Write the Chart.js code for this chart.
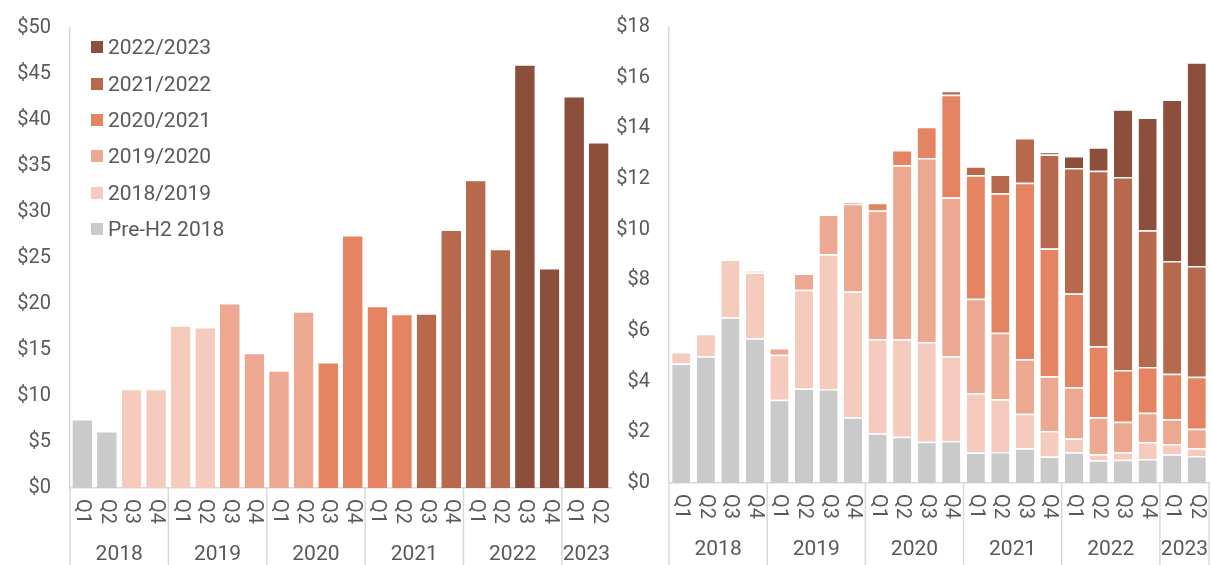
<!DOCTYPE html>
<html>
<head>
<meta charset="utf-8">
<script src="https://cdn.jsdelivr.net/npm/chart.js@4.4.1/dist/chart.umd.min.js"></script>
<style>
  html, body { margin: 0; padding: 0; background: #fff; }
  #wrap { position: relative; width: 1211px; height: 565px; overflow: hidden; }
  #c1 { position: absolute; left: 0; top: 0; }
  #c2 { position: absolute; left: 612px; top: 0; }
  #legend { position: absolute; left: 91px; top: 29px; font-family: Roboto, sans-serif; font-size: 21px; color: #595959; }
  .item { height: 36.4px; display: flex; align-items: center; white-space: nowrap; }
  .box { width: 12px; height: 12px; margin-right: 5px; flex: none; }
</style>
</head>
<body>
<div id="wrap">
  <canvas id="c1" width="612" height="565"></canvas>
  <canvas id="c2" width="599" height="565"></canvas>
  <div id="legend"></div>
</div>
<script>
// ---------- data ----------
const quarters = ['Q1','Q2','Q3','Q4','Q1','Q2','Q3','Q4','Q1','Q2','Q3','Q4','Q1','Q2','Q3','Q4','Q1','Q2','Q3','Q4','Q1','Q2'];
const years = ['2018','2019','2020','2021','2022','2023'];
const yearStart = [0, 4, 8, 12, 16, 20];
const cohorts = ['Pre-H2 2018','2018/2019','2019/2020','2020/2021','2021/2022','2022/2023'];
const cohortColors = ['#C9CAC9','#F4CBBD','#ECA891','#E48462','#B6694C','#8B4F3B'];

// Left chart: total per quarter, and the cohort each quarter belongs to
const totalFunding = [7.5, 6.2, 10.8, 10.8, 17.7, 17.5, 20.1, 14.7, 12.8, 19.2, 13.7, 27.5, 19.8, 18.95, 19.0, 28.1, 33.5, 26.0, 46.05, 23.9, 42.6, 37.6];
const quarterCohort = [0,0,1,1,1,1,2,2,2,2,3,3,3,3,4,4,4,4,5,5,5,5];
const leftTicks = { min: 0, max: 50, step: 5 };

// Right chart: stacked by cohort
const seriesPre   = [4.72, 5.0, 6.54, 5.71, 3.29, 3.73, 3.71, 2.6, 1.96, 1.83, 1.63, 1.66, 1.2, 1.22, 1.37, 1.05, 1.21, 0.9, 0.92, 0.95, 1.13, 1.07];
const series1819  = [0.45, 0.89, 2.28, 2.6, 1.77, 3.9, 5.32, 4.96, 3.72, 3.84, 3.94, 3.34, 2.34, 2.09, 1.36, 1.0, 0.55, 0.23, 0.29, 0.67, 0.41, 0.3];
const series1920  = [null, null, null, 0.06, 0.27, 0.64, 1.57, 3.46, 5.08, 6.87, 7.26, 6.27, 3.73, 2.62, 2.15, 2.16, 2.02, 1.47, 1.21, 1.15, 0.98, 0.77];
const series2021  = [null, null, null, null, null, null, null, 0.06, 0.3, 0.6, 1.23, 4.06, 4.88, 5.51, 6.97, 5.05, 3.7, 2.8, 2.04, 1.81, 1.79, 2.05];
const series2122  = [null, null, null, null, null, null, null, null, null, null, null, 0.15, 0.35, 0.74, 1.77, 3.71, 4.95, 6.93, 7.62, 5.4, 4.45, 4.38];
const series2223  = [null, null, null, null, null, null, null, null, null, null, null, null, null, null, null, 0.1, 0.48, 0.92, 2.67, 4.45, 6.38, 8.04];
const rightTicks = { min: 0, max: 18, step: 2 };

// ---------- legend ----------
const legend = document.getElementById('legend');
for (let k = cohorts.length - 1; k >= 0; k--) {
  const it = document.createElement('div'); it.className = 'item';
  const b = document.createElement('span'); b.className = 'box'; b.style.background = cohortColors[k];
  const t = document.createElement('span'); t.textContent = cohorts[k];
  it.appendChild(b); it.appendChild(t); legend.appendChild(it);
}

// ---------- helpers ----------
const TXT = '#595959', AXIS = '#D9D9D9';
Chart.defaults.font.family = 'Roboto, sans-serif';
Chart.defaults.animation = false;

function makeXPlugin(rightEdge) {
  return {
    id: 'xlabels',
    afterDraw(chart) {
      const ctx = chart.ctx, xs = chart.scales.x, a = chart.chartArea;
      const H = chart.height;
      ctx.save();
      ctx.fillStyle = TXT;
      ctx.font = '20px Roboto, sans-serif';
      quarters.forEach((q, i) => {
        const x = xs.getPixelForValue(i);
        ctx.save();
        ctx.translate(x, a.bottom + 11);
        ctx.rotate(Math.PI / 2);
        ctx.textAlign = 'left';
        ctx.textBaseline = 'middle';
        ctx.fillText(q, 0, 0);
        ctx.restore();
      });
      const bound = (i) => {
        if (i <= 0) return a.left;
        if (i >= quarters.length) return a.right;
        return (xs.getPixelForValue(i - 1) + xs.getPixelForValue(i)) / 2;
      };
      ctx.strokeStyle = AXIS; ctx.lineWidth = 1.5;
      const bs = yearStart.slice();
      if (rightEdge) bs.push(quarters.length);
      bs.forEach(i => {
        const x = bound(i);
        ctx.beginPath(); ctx.moveTo(x, a.bottom); ctx.lineTo(x, H); ctx.stroke();
      });
      ctx.font = '21px Roboto, sans-serif';
      ctx.textAlign = 'center'; ctx.textBaseline = 'middle';
      years.forEach((y, k) => {
        const s = yearStart[k], e = k + 1 < yearStart.length ? yearStart[k + 1] : quarters.length;
        const x0 = bound(s), x1 = bound(e);
        ctx.fillText(y, (x0 + x1) / 2, a.bottom + 67);
      });
      ctx.restore();
    }
  };
}

function scalesFor(t, yWidth, xHeight) {
  return {
    x: {
      stacked: true,
      ticks: { display: false },
      grid: { display: false, drawTicks: false, tickLength: 0 },
      border: { color: AXIS, width: 1.5 },
      afterFit(s) { s.height = xHeight; s.paddingLeft = 0; s.paddingRight = 0; }
    },
    y: {
      stacked: true, min: t.min, max: t.max,
      ticks: { stepSize: t.step, color: TXT, font: { size: 20 }, padding: 19, callback: v => '$' + v },
      grid: { display: false, drawTicks: false, tickLength: 0 },
      border: { color: AXIS, width: 1.5 },
      afterFit(s) { s.width = yWidth; s.paddingTop = 0; s.paddingBottom = 0; }
    }
  };
}

// ---------- left chart ----------
const leftSets = cohorts.map((name, k) => ({
  label: name,
  data: totalFunding.map((v, i) => quarterCohort[i] === k ? v : null),
  backgroundColor: cohortColors[k],
  borderColor: 'rgba(255,255,255,0.45)',
  borderWidth: { top: 1.5, left: 0, right: 0, bottom: 0 },
  borderSkipped: 'start',
  barPercentage: 0.8, categoryPercentage: 1.0
}));

new Chart(document.getElementById('c1'), {
  type: 'bar',
  data: { labels: quarters, datasets: leftSets },
  options: {
    responsive: false, maintainAspectRatio: false,
    layout: { padding: { top: 28, right: 1, left: 0, bottom: 0 } },
    plugins: { legend: { display: false }, tooltip: { enabled: false } },
    scales: scalesFor(leftTicks, 70, 77)
  },
  plugins: [makeXPlugin(false)]
});

// ---------- right chart ----------
const rightSeries = [seriesPre, series1819, series1920, series2021, series2122, series2223];
const rightSets = cohorts.map((name, k) => ({
  label: name,
  data: rightSeries[k],
  backgroundColor: cohortColors[k],
  borderColor: 'rgba(255,255,255,0.9)',
  borderWidth: { top: 1.5, left: 0, right: 0, bottom: 0 },
  borderSkipped: 'start',
  barPercentage: 0.74, categoryPercentage: 1.0
}));

new Chart(document.getElementById('c2'), {
  type: 'bar',
  data: { labels: quarters, datasets: rightSets },
  options: {
    responsive: false, maintainAspectRatio: false,
    layout: { padding: { top: 27, right: 2, left: 0, bottom: 0 } },
    plugins: { legend: { display: false }, tooltip: { enabled: false } },
    scales: scalesFor(rightTicks, 57, 82)
  },
  plugins: [makeXPlugin(true)]
});
</script>
</body>
</html>
